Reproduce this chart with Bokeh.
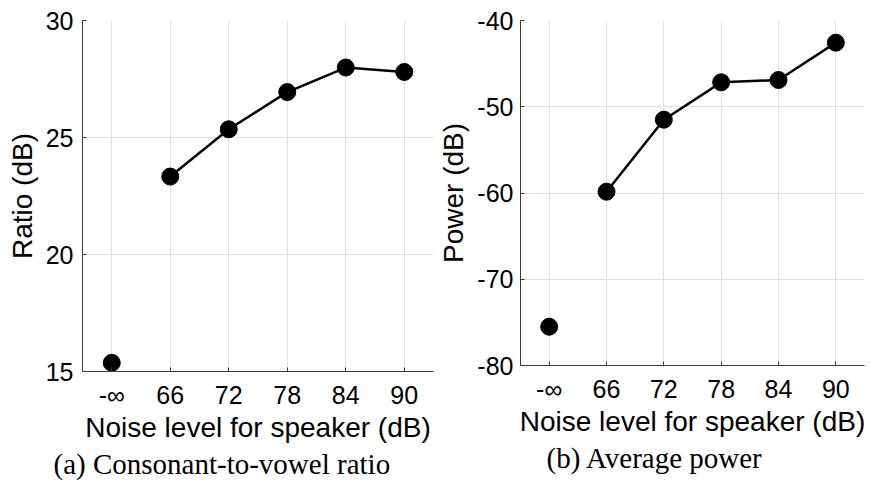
from bokeh.plotting import figure
from bokeh.layouts import row
from bokeh.models import Range1d, FixedTicker, Title
from bokeh.embed import file_html
from bokeh.resources import INLINE

categories = ["-∞", "66", "72", "78", "84", "90"]
ratio_db = [15.37, 23.33, 25.35, 26.94, 27.99, 27.8]
power_db = [-75.5, -59.85, -51.5, -47.17, -46.9, -42.57]
ratio_ticks = [15, 20, 25, 30]
power_ticks = [-80, -70, -60, -50, -40]
x_label = "Noise level for speaker (dB)"

SANS = "Liberation Sans"
SERIF = "Liberation Serif"


def panel(vals, yr, yticks, ylabel, caption, fw, fh, left, top, right, bottom, cap_off, ystand):
    p = figure(x_range=categories, y_range=Range1d(*yr), frame_width=fw, frame_height=fh,
               output_backend="svg", toolbar_location=None,
               min_border_left=left, min_border_top=top, min_border_right=right,
               min_border_bottom=bottom)
    p.outline_line_color = None
    p.background_fill_color = "white"
    p.border_fill_color = "white"
    p.yaxis.ticker = FixedTicker(ticks=yticks)
    p.yaxis.major_label_overrides = {t: str(t) for t in yticks}
    for ax in (p.xaxis[0], p.yaxis[0]):
        ax.axis_line_color = "#3a3a3a"
        ax.major_tick_line_color = "#3a3a3a"
        ax.major_tick_in = 4
        ax.major_tick_out = 0
        ax.minor_tick_line_color = None
        ax.major_label_text_font = SANS
        ax.major_label_text_font_size = "25px"
        ax.major_label_text_color = "black"
        ax.axis_label_text_font = SANS
        ax.axis_label_text_font_size = "28px"
        ax.axis_label_text_font_style = "normal"
        ax.axis_label_text_color = "black"
    p.xaxis.axis_label = x_label
    p.yaxis.axis_label = ylabel
    p.xaxis.major_label_standoff = 9
    p.xaxis.axis_label_standoff = 0
    p.yaxis.major_label_standoff = ystand
    p.yaxis.axis_label_standoff = 5
    p.xgrid.grid_line_color = "#e0e0e0"
    p.ygrid.grid_line_color = "#e0e0e0"
    p.line(categories[1:], vals[1:], line_color="black", line_width=2.5)
    p.scatter(categories, vals, size=17, fill_color="black", line_color="black")
    t = Title(text=caption, align="left", offset=cap_off, text_font=SERIF,
              text_font_size="29px", text_font_style="normal", text_color="black", standoff=0)
    p.add_layout(t, "below")
    return p


pa = panel(ratio_db, (15, 30), ratio_ticks, "Ratio (dB)", "(a) Consonant-to-vowel ratio",
           351, 351, 82, 16, 2, 124, -29, 9)
pb = panel(power_db, (-80, -40), power_ticks, "Power (dB)", "(b) Average power",
           344, 345, 83, 20, 6, 126, 26, 7)

layout = row(pa, pb)
open("out.html", "w").write(file_html(layout, INLINE))
